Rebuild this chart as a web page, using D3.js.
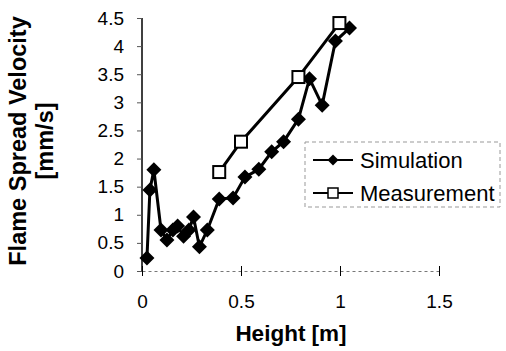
<!DOCTYPE html>
<html><head><meta charset="utf-8">
<script src="https://cdn.jsdelivr.net/npm/d3@7"></script>
<style>body{margin:0;background:#fff}svg{display:block}</style>
</head><body>
<script>
const simX = [0.025,0.04,0.06,0.096,0.126,0.156,0.18,0.21,0.237,0.26,0.29,0.33,0.39,0.46,0.52,0.59,0.655,0.715,0.79,0.846,0.91,0.977,1.048];
const simY = [0.23,1.44,1.80,0.73,0.55,0.73,0.80,0.62,0.73,0.96,0.43,0.73,1.28,1.30,1.67,1.81,2.12,2.30,2.70,3.42,2.95,4.09,4.32];
const measX = [0.39,0.50,0.79,0.997];
const measY = [1.76,2.30,3.45,4.41];
const xTicks = [0,0.5,1,1.5];
const yTicks = [0,0.5,1,1.5,2,2.5,3,3.5,4,4.5];
const seriesNames = ["Simulation","Measurement"];

const W=506,H=351;
const svg=d3.select("body").append("svg").attr("width",W).attr("height",H);
const x=d3.scaleLinear().domain([0,1.5]).range([142,439]);
const y=d3.scaleLinear().domain([0,4.5]).range([271,18]);
const font="Arial, 'Liberation Sans', sans-serif";

// x axis (dotted line)
const xa=svg.append("g").attr("transform","translate(0,271)")
 .call(d3.axisBottom(x).tickValues(xTicks).tickSize(0).tickFormat(d3.format("")).tickPadding(24));
xa.select(".domain").attr("stroke","#777").attr("stroke-dasharray","3,3").attr("stroke-width",1);
xa.selectAll(".tick line").remove();
xa.selectAll(".tick").append("line").attr("y1",-5).attr("y2",5).attr("stroke","#000").attr("stroke-width",1);
xa.selectAll("text").attr("font-family",font).attr("font-size",19).attr("fill","#000");

// y axis
const ya=svg.append("g").attr("transform","translate(142,0)")
 .call(d3.axisLeft(y).tickValues(yTicks).tickSize(5).tickFormat(d3.format("")).tickPadding(13));
ya.select(".domain").attr("stroke","#000").attr("stroke-width",1.5).attr("d","M0,18V271");
ya.selectAll(".tick line").attr("stroke","#555");
ya.selectAll("text").attr("font-family",font).attr("font-size",19).attr("fill","#000");

// titles
svg.append("text").attr("x",291).attr("y",341).attr("text-anchor","middle")
 .attr("font-family",font).attr("font-size",22.5).attr("font-weight","bold").text("Height [m]");
const yl=svg.append("text").attr("transform","translate(0,141) rotate(-90)")
 .attr("text-anchor","middle").attr("font-family",font).attr("font-size",23.5).attr("font-weight","bold");
yl.append("tspan").attr("x",0).attr("y",26).text("Flame Spread Velocity");
yl.append("tspan").attr("x",0).attr("y",53).text("[mm/s]");

const line=d3.line().x(d=>x(d[0])).y(d=>y(d[1]));
const sim=simX.map((v,i)=>[v,simY[i]]);
const meas=measX.map((v,i)=>[v,measY[i]]);
function diamondPath(r){return `M0,${-r}L${r},0L0,${r}L${-r},0Z`;}

svg.append("path").datum(meas).attr("d",line).attr("fill","none").attr("stroke","#000").attr("stroke-width",3);
svg.append("path").datum(sim).attr("d",line).attr("fill","none").attr("stroke","#000").attr("stroke-width",3);
svg.selectAll(".sim").data(sim).enter().append("path")
 .attr("transform",d=>`translate(${x(d[0])},${y(d[1])})`).attr("d",diamondPath(7.5)).attr("fill","#000");
svg.selectAll(".meas").data(meas).enter().append("rect")
 .attr("x",d=>x(d[0])-6).attr("y",d=>y(d[1])-6).attr("width",12).attr("height",12)
 .attr("fill","#fff").attr("stroke","#000").attr("stroke-width",2);

// legend
const lg=svg.append("g");
lg.append("rect").attr("x",305).attr("y",142).attr("width",195).attr("height",65)
 .attr("fill","#fff").attr("stroke","#999").attr("stroke-width",1).attr("stroke-dasharray","4,3");
const rows=[160,193];
seriesNames.forEach((n,i)=>{
 const yy=rows[i];
 lg.append("line").attr("x1",313).attr("x2",353).attr("y1",yy).attr("y2",yy).attr("stroke","#000").attr("stroke-width",2);
 if(i===0) lg.append("path").attr("transform",`translate(333,${yy})`).attr("d",diamondPath(5.5)).attr("fill","#000");
 else lg.append("rect").attr("x",328).attr("y",yy-5).attr("width",10).attr("height",10).attr("fill","#fff").attr("stroke","#000").attr("stroke-width",1.5);
 lg.append("text").attr("x",360).attr("y",yy+7.5).attr("font-family",font).attr("font-size",22).text(n);
});
</script>
</body></html>
